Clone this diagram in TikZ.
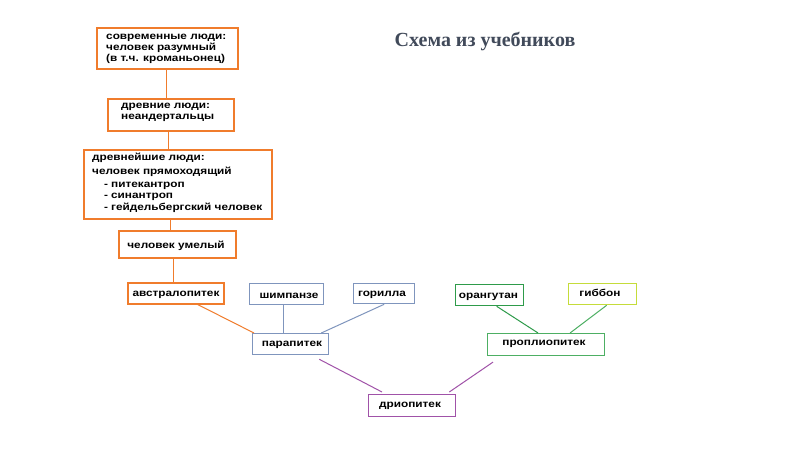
\documentclass[tikz,border=0pt]{standalone}
\usepackage{fontspec}
\setmainfont{Liberation Serif}
\newfontfamily\arialf[FakeStretch=1.18]{Liberation Sans}
\usetikzlibrary{calc}
\definecolor{orng}{HTML}{F07C2C}
\definecolor{bluegr}{HTML}{7F95BD}
\definecolor{dgreen}{HTML}{2E9B4A}
\definecolor{lgreen}{HTML}{4DAF63}
\definecolor{ygreen}{HTML}{C5DC3A}
\definecolor{purp}{HTML}{A052A8}
\definecolor{titlec}{HTML}{414A5A}
\tikzset{
  box/.style={draw=#1, line width=1.6pt, inner sep=0pt, anchor=north west},
  lbl/.style={inner sep=0pt, font=\arialf\bfseries\fontsize{10}{10.8}\selectfont, align=left},
  conn/.style={draw=#1, line width=1pt},
}
\begin{document}
\begin{tikzpicture}[x=1pt,y=-1pt]
\useasboundingbox (0,0) rectangle (800,449);
\fill[white] (0,0) rectangle (800,449);
\node[font=\bfseries\fontsize{20}{22}\selectfont, text=titlec] (title) at (485,42) {Схема из учебников};

\node[box=orng, minimum width=141pt, minimum height=41pt] (b1) at (96,27) {};
\node[lbl, anchor=north west] (t1) at (106,34) {современные люди:\\человек разумный\\(в т.ч. кроманьонец)};
\node[box=orng, minimum width=126pt, minimum height=32pt] (b2) at (107,98) {};
\node[lbl, anchor=north west] (t2) at (121,103) {древние люди:\\неандертальцы};
\node[box=orng, minimum width=188pt, minimum height=69pt] (b3) at (83,149) {};
\node[lbl, anchor=north west, font=\arialf\bfseries\fontsize{10}{14}\selectfont] (t3) at (92,153) {древнейшие люди:\\человек прямоходящий};
\node[lbl, anchor=north west, font=\arialf\bfseries\fontsize{10}{11.5}\selectfont] (t3b) at (104,181.5) {-\hspace{3pt}питекантроп\\-\hspace{3pt}синантроп\\-\hspace{3pt}гейдельбергский человек};
\node[box=orng, minimum width=117pt, minimum height=27pt] (b4) at (118,230) {};
\node[lbl] (t4) at (176,246) {человек умелый};
\node[box=orng, minimum width=96pt, minimum height=21pt] (b5) at (127,282) {};
\node[lbl] (t5) at (176,295) {австралопитек};

\node[box=bluegr, line width=1.3pt, minimum width=74pt, minimum height=21pt] (b6) at (249,283) {};
\node[lbl] (t6) at (289,296) {шимпанзе};
\node[box=bluegr, line width=1.3pt, minimum width=61pt, minimum height=20pt] (b7) at (353,283) {};
\node[lbl] (t7) at (382,295) {горилла};
\node[box=bluegr, line width=1.3pt, minimum width=76pt, minimum height=21pt] (b8) at (252,333) {};
\node[lbl] (t8) at (292,345) {парапитек};

\node[box=dgreen, line width=1.3pt, minimum width=68pt, minimum height=21pt] (b9) at (455,284) {};
\node[lbl] (t9) at (488.5,297) {орангутан};
\node[box=ygreen, line width=1.3pt, minimum width=68pt, minimum height=21pt] (b10) at (568,283) {};
\node[lbl] (t10) at (600,293) {гиббон};
\node[box=lgreen, line width=1.1pt, minimum width=117pt, minimum height=22pt] (b11) at (487,333) {};
\node[lbl] (t11) at (544,344) {проплиопитек};
\node[box=purp, line width=1.3pt, minimum width=87pt, minimum height=22pt] (b12) at (368,394) {};
\node[lbl] (t12) at (410,406) {дриопитек};

% connectors
\draw[conn=orng, line width=1.4pt] ($(b1.south)+(-1,0)$) -- ($(b1.south |- b2.north)+(-1,0)$);
\draw[conn=orng, line width=1.2pt] ($(b2.south)+(-2,0)$) -- ($(b2.south |- b3.north)+(-2,0)$);
\draw[conn=orng] ($(b3.south)+(-7,0)$) -- ($(b3.south |- b4.north)+(-7,0)$);
\draw[conn=orng, line width=1.3pt] ($(b4.south)+(-4,0)$) -- ($(b4.south |- b5.north)+(-4,0)$);
\draw[conn=orng] ($(b5.south)+(22,0)$) -- ($(b8.north west)+(2,0)$);
\draw[conn=bluegr] ($(b6.south)+(-3,0)$) -- ($(b6.south |- b8.north)+(-3,0)$);
\draw[conn=bluegr] (b7.south) -- ($(b8.north east)+(-8,0)$);
\draw[conn=dgreen] ($(b9.south)+(7,0)$) -- ($(b11.north)+(-8,0)$);
\draw[conn=lgreen] ($(b10.south)+(4,0)$) -- ($(b11.north)+(24,0)$);
\draw[conn=purp] ($(b8.south east)+(-10,4)$) -- ($(b12.north west)+(14,-2)$);
\draw[conn=purp] ($(b11.south west)+(6,6)$) -- ($(b12.north east)+(-7,-2)$);
\end{tikzpicture}
\end{document}
